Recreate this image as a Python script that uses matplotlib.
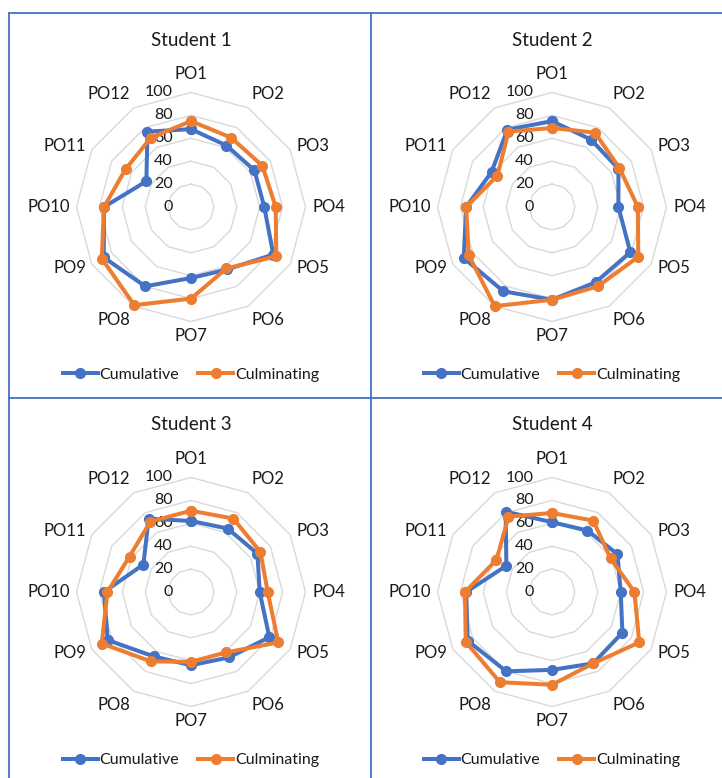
import numpy as np
import matplotlib.pyplot as plt
from matplotlib.lines import Line2D
from matplotlib import rcParams

rcParams['font.family'] = ['Lato', 'DejaVu Sans']

# data
categories = ['PO1', 'PO2', 'PO3', 'PO4', 'PO5', 'PO6',
              'PO7', 'PO8', 'PO9', 'PO10', 'PO11', 'PO12']
levels = [0, 20, 40, 60, 80, 100]
students = ['Student 1', 'Student 2', 'Student 3', 'Student 4']
series_names = ['Cumulative', 'Culminating']

cumulative_s1 = [68, 62, 64, 64, 83, 63, 62, 80, 88, 76, 45, 76]
culminating_s1 = [75, 70, 72, 74, 86, 62, 80, 99, 90, 76, 66, 70]

cumulative_s2 = [75, 68, 67, 58, 79, 76, 81, 85, 89, 75, 61, 78]
culminating_s2 = [69, 75, 68, 75, 87, 80, 81, 100, 84, 75, 55, 76]

cumulative_s3 = [62, 64, 67, 60, 79, 66, 64, 65, 84, 76, 48, 74]
culminating_s3 = [71, 74, 70, 67, 88, 61, 61, 70, 90, 73, 62, 71]

cumulative_s4 = [61, 62, 66, 60, 71, 72, 68, 80, 85, 75, 46, 81]
culminating_s4 = [69, 72, 59, 72, 88, 72, 81, 91, 87, 76, 56, 76]

cumulative = [cumulative_s1, cumulative_s2, cumulative_s3, cumulative_s4]
culminating = [culminating_s1, culminating_s2, culminating_s3, culminating_s4]

blue = '#4472C4'
orange = '#ED7D31'
grid_c = '#D9D9D9'
border_c = '#4472C4'
txt_c = '#1a1a1a'

W, H = 722, 778
fig = plt.figure(figsize=(W / 100, H / 100), dpi=100)

# radar centres (pixels from top-left) and radius of the 100 ring
centers = [(191, 207), (552, 207), (191, 592), (552, 592)]
title_y = [40, 40, 425, 425]
legend_y = [375, 375, 760, 760]
R = 114.5

n = len(categories)
theta = np.arange(n) * 2 * np.pi / n
theta_c = np.append(theta, theta[0])

for k, (cx, cy) in enumerate(centers):
    ax = fig.add_axes([(cx - R) / W, 1 - (cy + R) / H, 2 * R / W, 2 * R / H],
                      projection='polar')
    ax.set_theta_offset(np.pi / 2)
    ax.set_theta_direction(-1)
    ax.set_ylim(0, 100)
    ax.set_xticks([])
    ax.set_yticks([])
    ax.grid(False)
    ax.spines['polar'].set_visible(False)
    ax.patch.set_alpha(0)

    # polygon grid (no spokes, like Excel's radar default here)
    for lv in levels[1:]:
        ax.plot(theta_c, [lv] * (n + 1), color=grid_c, lw=1.0, zorder=1,
                clip_on=False)

    # radial axis labels
    for lv in levels:
        ax.annotate(str(lv), xy=(0, lv), xytext=(-13, 0),
                    textcoords='offset points', ha='right', va='center',
                    fontsize=11.5, color=txt_c)

    # category labels
    for t, lab in zip(theta, categories):
        s, c = np.sin(t), np.cos(t)
        ha = 'left' if s > 0.3 else ('right' if s < -0.3 else 'center')
        va = 'bottom' if c > 0.6 else ('top' if c < -0.6 else 'center')
        r = 109 if c > 0.9 else 106
        ax.text(t, r, lab, ha=ha, va=va, fontsize=12, color=txt_c)

    l1, = ax.plot(theta_c, cumulative[k] + cumulative[k][:1], color=blue,
                  lw=2.9, marker='o', ms=7, clip_on=False, zorder=3,
                  label=series_names[0])
    l2, = ax.plot(theta_c, culminating[k] + culminating[k][:1], color=orange,
                  lw=2.9, marker='o', ms=7, clip_on=False, zorder=4,
                  label=series_names[1])

    fig.text(cx / W, 1 - title_y[k] / H, students[k], ha='center',
             va='center', fontsize=13.5, color=txt_c)

    ax.legend(handles=[l1, l2], loc='center',
              bbox_to_anchor=(cx / W, 1 - legend_y[k] / H),
              bbox_transform=fig.transFigure, ncol=2, frameon=False,
              fontsize=11.5, handlelength=2.2, handletextpad=0.1,
              columnspacing=1.2, labelcolor=txt_c)

# panel borders
def fline(x0, y0, x1, y1):
    fig.add_artist(Line2D([x0 / W, x1 / W], [1 - y0 / H, 1 - y1 / H],
                          transform=fig.transFigure, color=border_c, lw=1.3))

fline(9, 12.7, W, 12.7)
fline(9, 398, W, 398)
fline(9, 12.7, 9, H)
fline(371, 12.7, 371, H)

fig.savefig('out.png', dpi=100)
